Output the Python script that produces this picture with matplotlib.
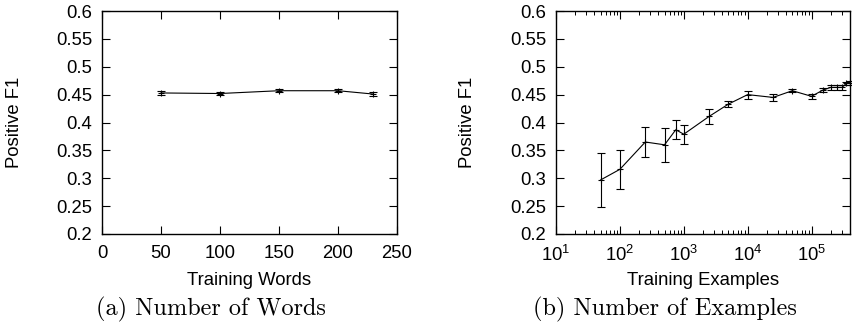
import matplotlib
matplotlib.use("Agg")
import matplotlib.pyplot as plt
from matplotlib.ticker import LogLocator, NullFormatter, FixedLocator

plt.rcParams['font.family'] = ['Liberation Sans', 'DejaVu Sans']
plt.rcParams['mathtext.fontset'] = 'custom'
plt.rcParams['mathtext.rm'] = 'Liberation Sans'
plt.rcParams['mathtext.it'] = 'Liberation Sans:italic'

# Panel (a): number of training words
words_x = [50, 100, 150, 200, 230]
words_y = [0.453, 0.452, 0.457, 0.457, 0.451]
words_err = [0.004, 0.003, 0.003, 0.003, 0.004]

# Panel (b): number of training examples
ex_x = [50, 100, 250, 500, 750, 1000, 2500, 5000, 10000, 25000, 50000,
        100000, 150000, 200000, 250000, 300000, 350000, 400000]
ex_y = [0.297, 0.316, 0.365, 0.360, 0.387, 0.379, 0.411, 0.433, 0.450, 0.445,
        0.457, 0.447, 0.458, 0.463, 0.463, 0.463, 0.470, 0.471]
ex_err = [0.049, 0.035, 0.027, 0.030, 0.017, 0.017, 0.014, 0.006, 0.007, 0.007,
          0.003, 0.004, 0.004, 0.004, 0.004, 0.004, 0.003, 0.003]

y_ticks = [0.2, 0.25, 0.3, 0.35, 0.4, 0.45, 0.5, 0.55, 0.6]
y_ticklabels = ['0.2', '0.25', '0.3', '0.35', '0.4', '0.45', '0.5', '0.55', '0.6']
words_ticks = [0, 50, 100, 150, 200, 250]

FS = 13.3

fig = plt.figure(figsize=(8.52, 3.28), dpi=100)
axA = fig.add_axes([102/852, 1-234/328, 295/852, 223/328])
axB = fig.add_axes([556/852, 1-234/328, 294/852, 223/328])

ebkw = dict(color='black', lw=0.8, elinewidth=0.8, capsize=2.8, capthick=0.8,
            marker='+', markersize=5, mew=0.8)

axA.errorbar(words_x, words_y, yerr=words_err, **ebkw)
axA.set_xlim(0, 250)
axA.set_xticks(words_ticks)
axA.set_xticklabels([str(t) for t in words_ticks])

axB.errorbar(ex_x, ex_y, yerr=ex_err, clip_on=False, **ebkw)
axB.set_xscale('log')
axB.set_xlim(10, 4e5)
axB.xaxis.set_major_locator(FixedLocator([1e1, 1e2, 1e3, 1e4, 1e5]))
axB.set_xticklabels([r'$\mathregular{10^{%d}}$' % k for k in range(1, 6)])
axB.xaxis.set_minor_locator(LogLocator(base=10, subs=range(2, 10), numticks=20))
axB.xaxis.set_minor_formatter(NullFormatter())

for ax, ylx in ((axA, -0.268), (axB, -0.272)):
    ax.set_ylim(0.2, 0.6)
    ax.set_yticks(y_ticks)
    ax.set_yticklabels(y_ticklabels)
    ax.tick_params(which='major', direction='in', length=6, width=0.8,
                   top=True, right=True, labelsize=FS, pad=7)
    ax.tick_params(axis='x', which='major', pad=8)
    ax.tick_params(which='minor', direction='in', length=3, width=0.7,
                   top=True, right=True)
    for s in ax.spines.values():
        s.set_linewidth(1.0)
    ax.set_ylabel('Positive F1', fontsize=FS)
    ax.yaxis.set_label_coords(ylx, 0.5)
    ax.xaxis.set_label_coords(0.5, -0.17)

axA.set_xlabel('Training Words', fontsize=FS)
axB.set_xlabel('Training Examples', fontsize=FS)

fig.text(211/852, 1-309/328, '(a) Number of Words', ha='center', va='center',
         fontsize=17.5, family=['cmr10', 'DejaVu Serif'])
fig.text(665/852, 1-309/328, '(b) Number of Examples', ha='center', va='center',
         fontsize=17.5, family=['cmr10', 'DejaVu Serif'])

fig.savefig('out.png', dpi=100)
